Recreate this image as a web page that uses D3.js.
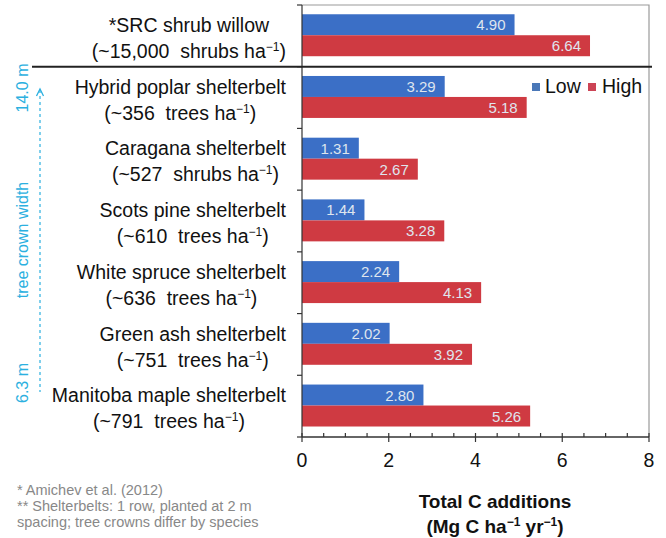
<!DOCTYPE html>
<html>
<head>
<meta charset="utf-8">
<script src="https://cdn.jsdelivr.net/npm/d3@7"></script>
<style>
  html, body { margin: 0; padding: 0; background: #fff; }
  svg { display: block; font-family: Arial, "Liberation Sans", sans-serif; }
</style>
</head>
<body>
<svg id="chart" width="666" height="538"></svg>
<script>
// Carbon additions by planting type (Mg C ha-1 yr-1)
const plantings = [
  "*SRC shrub willow",
  "Hybrid poplar shelterbelt",
  "Caragana shelterbelt",
  "Scots pine shelterbelt",
  "White spruce shelterbelt",
  "Green ash shelterbelt",
  "Manitoba maple shelterbelt"
];
const densities = ["~15,000", "~356", "~527", "~610", "~636", "~751", "~791"];
const units = ["shrubs", "trees", "shrubs", "trees", "trees", "trees", "trees"];
const lowValues = [4.90, 3.29, 1.31, 1.44, 2.24, 2.02, 2.80];
const highValues = [6.64, 5.18, 2.67, 3.28, 4.13, 3.92, 5.26];
const seriesNames = ["Low", "High"];
const xTicks = [0, 2, 4, 6, 8];
const footnotes = [
  "* Amichev et al. (2012)",
  "** Shelterbelts: 1 row, planted at 2 m",
  "spacing; tree crowns differ by species"
];

const colors = { Low: "#3b6fc6", High: "#cf3a42" };
const svg = d3.select("#chart");

const plot = { left: 302, right: 649, top: 5, bottom: 437 };

const x = d3.scaleLinear().domain([0, 8]).range([plot.left, plot.right]);
const y = d3.scaleBand().domain(d3.range(plantings.length)).range([plot.top, plot.bottom]).padding(0);
const step = y.step();

// Frame (top and right edges)
svg.append("path")
  .attr("d", `M${plot.left},${plot.top}H${plot.right}V${plot.bottom}`)
  .attr("fill", "none").attr("stroke", "#9a9a9a").attr("stroke-width", 1.2);

// Bars with value labels inside their ends
const rows = plantings.map((p, i) => ({ i, Low: lowValues[i], High: highValues[i] }));
const barH = step * 0.34;
const g = svg.append("g");
seriesNames.forEach((s, k) => {
  const yOff = step * 0.15 + k * barH;
  g.selectAll(".bar-" + s).data(rows).join("rect")
    .attr("x", x(0))
    .attr("y", d => y(d.i) + yOff)
    .attr("width", d => x(d[s]) - x(0))
    .attr("height", barH)
    .attr("fill", colors[s]);
  g.selectAll(".lab-" + s).data(rows).join("text")
    .attr("x", d => x(d[s]) - 9)
    .attr("y", d => y(d.i) + yOff + barH / 2 + 5.5)
    .attr("text-anchor", "end")
    .attr("font-size", 15)
    .attr("fill", "#dfe5ee")
    .text(d => d[s].toFixed(2));
});

// Left axis with ticks at group boundaries
svg.append("line")
  .attr("x1", plot.left).attr("x2", plot.left)
  .attr("y1", plot.top).attr("y2", plot.bottom)
  .attr("stroke", "#333").attr("stroke-width", 1.2);
d3.range(plantings.length + 1).forEach(i => {
  const yy = plot.top + i * step;
  svg.append("line")
    .attr("x1", plot.left - 5).attr("x2", plot.left)
    .attr("y1", yy).attr("y2", yy)
    .attr("stroke", "#333").attr("stroke-width", 1.2);
});

// Bottom axis: major ticks every 2, minor ticks every 0.5
const axisG = svg.append("g");
axisG.append("line")
  .attr("x1", x(0)).attr("x2", x(8)).attr("y1", plot.bottom).attr("y2", plot.bottom)
  .attr("stroke", "#333").attr("stroke-width", 1.3);
d3.range(0, 8.01, 0.5).forEach(v => {
  const major = Math.abs(v % 2) < 1e-9;
  axisG.append("line")
    .attr("x1", x(v)).attr("x2", x(v))
    .attr("y1", plot.bottom - 4).attr("y2", major ? plot.bottom + 5 : plot.bottom)
    .attr("stroke", "#333").attr("stroke-width", 1.2);
});
axisG.selectAll(".tick-label").data(xTicks).join("text")
  .attr("x", d => x(d)).attr("y", 467)
  .attr("text-anchor", "middle").attr("font-size", 19.5).attr("fill", "#111")
  .text(d => d);

// Axis title
svg.append("text").attr("x", 495).attr("y", 508).attr("text-anchor", "middle")
  .attr("font-weight", "bold").attr("font-size", 19).attr("fill", "#111")
  .text("Total C additions");
const t2 = svg.append("text").attr("x", 495).attr("y", 533).attr("text-anchor", "middle")
  .attr("font-weight", "bold").attr("font-size", 19).attr("fill", "#111");
t2.append("tspan").text("(Mg C ha");
t2.append("tspan").attr("font-size", 12).attr("dy", -7).text("\u22121");
t2.append("tspan").attr("dy", 7).text(" yr");
t2.append("tspan").attr("font-size", 12).attr("dy", -7).text("\u22121");
t2.append("tspan").attr("dy", 7).text(")");

// Separator between SRC willow and shelterbelts
svg.append("line")
  .attr("x1", 32).attr("x2", 652)
  .attr("y1", plot.top + step).attr("y2", plot.top + step)
  .attr("stroke", "#222").attr("stroke-width", 2);

// Category labels: the wider line sits against the axis, the other is centred on it
const labelFont = 19.5;
plantings.forEach((p, i) => {
  const top = y(i);
  const first = svg.append("text")
    .attr("y", top + 27)
    .attr("text-anchor", "middle").attr("font-size", labelFont).attr("fill", "#111")
    .text(p);
  const second = svg.append("text")
    .attr("y", top + 53)
    .attr("text-anchor", "middle").attr("font-size", labelFont).attr("fill", "#111")
    .attr("xml:space", "preserve");
  second.append("tspan").text("(" + densities[i] + "  " + units[i] + " ha");
  second.append("tspan").attr("font-size", 12).attr("dy", -7).text("\u22121");
  second.append("tspan").attr("dy", 7).text(")");
  const w = Math.max(first.node().getComputedTextLength(), second.node().getComputedTextLength());
  const cx = 286 - w / 2;
  first.attr("x", cx);
  second.attr("x", cx);
});

// Legend
const legend = svg.append("g").attr("font-size", 19.5).attr("fill", "#111");
[["Low", 532, 545], ["High", 588, 602]].forEach(([s, sx, tx]) => {
  legend.append("rect").attr("x", sx).attr("y", 83).attr("width", 8).attr("height", 8)
    .attr("fill", s === "Low" ? "#4a78b8" : "#cc4455");
  legend.append("text").attr("x", tx).attr("y", 93).text(s);
});

// Crown-width annotation
const cyan = "#2bb0e0";
svg.append("line")
  .attr("x1", 40).attr("x2", 40).attr("y1", 90).attr("y2", 392)
  .attr("stroke", cyan).attr("stroke-width", 1.2).attr("stroke-dasharray", "3,3");
svg.append("path")
  .attr("d", "M36.5,96 L40,89 L43.5,96")
  .attr("fill", "none").attr("stroke", cyan).attr("stroke-width", 1.3);
[["14.0 m", 88], ["tree crown width", 240], ["6.3 m", 383]].forEach(([t, cy]) => {
  svg.append("text")
    .attr("transform", `translate(28,${cy}) rotate(-90)`)
    .attr("text-anchor", "middle").attr("font-size", 16).attr("fill", cyan)
    .text(t);
});

// Footnotes
footnotes.forEach((f, i) => {
  svg.append("text")
    .attr("x", 17).attr("y", 495 + i * 16)
    .attr("font-size", 14.5).attr("fill", "#888")
    .text(f);
});
</script>
</body>
</html>
